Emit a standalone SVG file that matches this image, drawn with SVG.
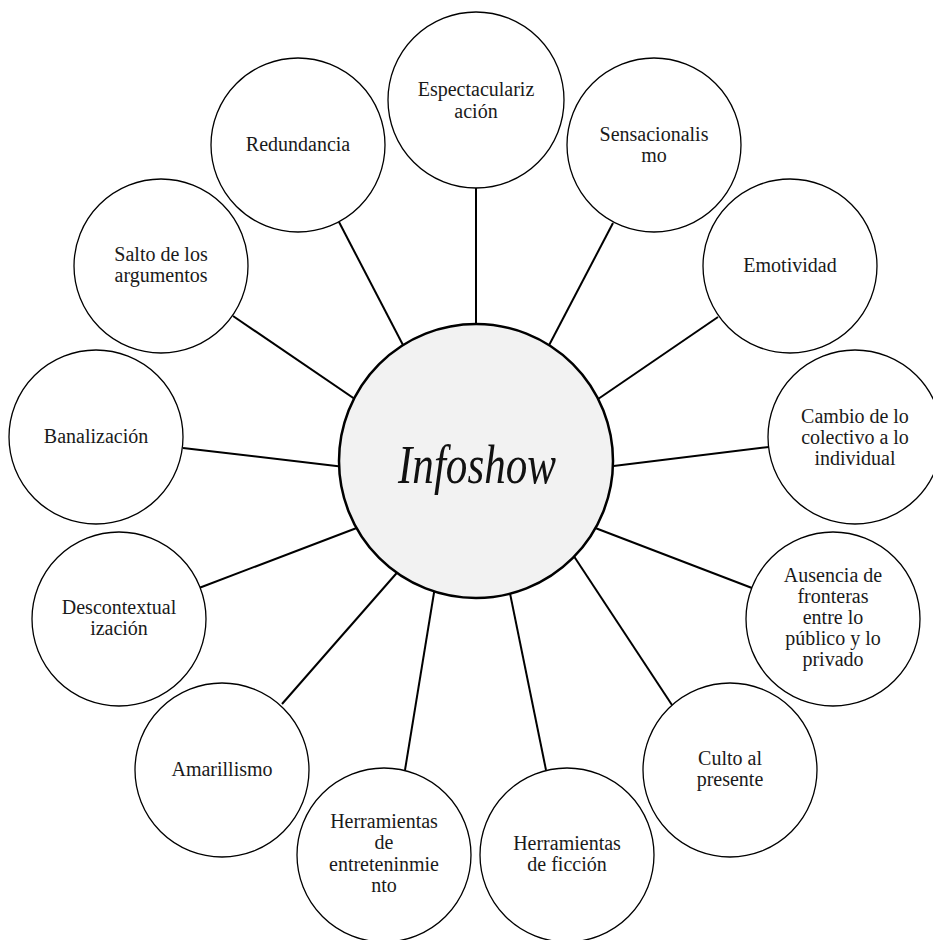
<svg xmlns="http://www.w3.org/2000/svg" width="933" height="940" viewBox="0 0 933 940">
  <style>
    .link { stroke: #000; stroke-width: 2; fill: none; }
    .node { fill: #fff; stroke: #000; stroke-width: 1.3; }
    .hub { fill: #f2f2f2; stroke: #000; stroke-width: 2.5; }
    .lbl { font-family: "Liberation Serif", "Times New Roman", serif; font-size: 20px; fill: #1a1a1a; text-anchor: middle; }
    .hub-lbl { font-family: "Liberation Serif", "Times New Roman", serif; font-style: italic; font-size: 54px; fill: #111; text-anchor: middle; }
  </style>
  <rect width="933" height="940" fill="#fff"/>

  <!-- spokes from the hub to each satellite -->
  <g id="connectors">
    <line class="link" x1="476" y1="185" x2="476" y2="360"/>
    <line class="link" x1="339" y1="222" x2="429" y2="395"/>
    <line class="link" x1="613" y1="223" x2="523" y2="395"/>
    <line class="link" x1="718" y1="317" x2="563" y2="423"/>
    <line class="link" x1="769" y1="447" x2="581" y2="470"/>
    <line class="link" x1="752" y1="588" x2="577" y2="521"/>
    <line class="link" x1="672" y1="705" x2="554" y2="526"/>
    <line class="link" x1="546" y1="770" x2="503" y2="559"/>
    <line class="link" x1="405" y1="770" x2="440" y2="556"/>
    <line class="link" x1="282" y1="704" x2="409" y2="559"/>
    <line class="link" x1="199" y1="588" x2="375" y2="521"/>
    <line class="link" x1="183" y1="448" x2="370" y2="470"/>
    <line class="link" x1="233" y1="316" x2="390" y2="423"/>
  </g>

  <g id="hub">
    <circle class="hub" cx="476" cy="461" r="137"/>
    <text class="hub-lbl" x="477" y="483" textLength="158" lengthAdjust="spacingAndGlyphs">Infoshow</text>
  </g>

  <g id="espectacularizacion">
    <circle class="node" cx="476" cy="100" r="88"/>
    <text class="lbl" x="476" y="96">Espectaculariz</text>
    <text class="lbl" x="476" y="118">ación</text>
  </g>

  <g id="sensacionalismo">
    <circle class="node" cx="654" cy="145" r="87"/>
    <text class="lbl" x="654" y="141">Sensacionalis</text>
    <text class="lbl" x="654" y="162">mo</text>
  </g>

  <g id="emotividad">
    <circle class="node" cx="790" cy="266" r="87"/>
    <text class="lbl" x="790" y="272">Emotividad</text>
  </g>

  <g id="cambio">
    <circle class="node" cx="855" cy="437" r="87"/>
    <text class="lbl" x="855" y="423">Cambio de lo</text>
    <text class="lbl" x="855" y="444">colectivo a lo</text>
    <text class="lbl" x="855" y="465">individual</text>
  </g>

  <g id="ausencia">
    <circle class="node" cx="833" cy="619" r="87"/>
    <text class="lbl" x="833" y="582">Ausencia de</text>
    <text class="lbl" x="833" y="603">fronteras</text>
    <text class="lbl" x="833" y="624">entre lo</text>
    <text class="lbl" x="833" y="645">público y lo</text>
    <text class="lbl" x="833" y="666">privado</text>
  </g>

  <g id="culto">
    <circle class="node" cx="730" cy="770" r="87"/>
    <text class="lbl" x="730" y="765">Culto al</text>
    <text class="lbl" x="730" y="786">presente</text>
  </g>

  <g id="herramientas-ficcion">
    <circle class="node" cx="567" cy="855" r="87"/>
    <text class="lbl" x="567" y="850">Herramientas</text>
    <text class="lbl" x="567" y="871">de ficción</text>
  </g>

  <g id="herramientas-entretenimiento">
    <circle class="node" cx="384" cy="855" r="87"/>
    <text class="lbl" x="384" y="828">Herramientas</text>
    <text class="lbl" x="384" y="849">de</text>
    <text class="lbl" x="384" y="871">entreteninmie</text>
    <text class="lbl" x="384" y="892">nto</text>
  </g>

  <g id="amarillismo">
    <circle class="node" cx="222" cy="770" r="87"/>
    <text class="lbl" x="222" y="776">Amarillismo</text>
  </g>

  <g id="descontextualizacion">
    <circle class="node" cx="119" cy="619" r="87"/>
    <text class="lbl" x="119" y="614">Descontextual</text>
    <text class="lbl" x="119" y="635">ización</text>
  </g>

  <g id="banalizacion">
    <circle class="node" cx="96" cy="437" r="87"/>
    <text class="lbl" x="96" y="443">Banalización</text>
  </g>

  <g id="salto">
    <circle class="node" cx="161" cy="266" r="87"/>
    <text class="lbl" x="161" y="261">Salto de los</text>
    <text class="lbl" x="161" y="282">argumentos</text>
  </g>

  <g id="redundancia">
    <circle class="node" cx="298" cy="145" r="87"/>
    <text class="lbl" x="298" y="151">Redundancia</text>
  </g>
</svg>
